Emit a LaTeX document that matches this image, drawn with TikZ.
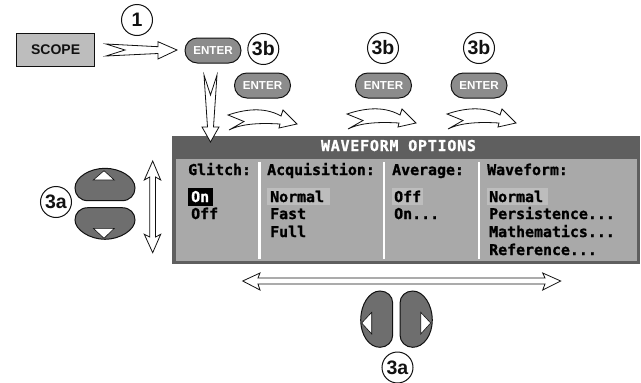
\documentclass[tikz,border=0pt]{standalone}
\usepackage{fontspec}
\setmainfont{Liberation Sans}
\newfontfamily\screenfont[BoldFeatures={FakeBold=1.2}]{DejaVu Sans Mono}
\definecolor{btn}{HTML}{8C8C8C}
\definecolor{rock}{HTML}{6E6E6E}
\definecolor{titlebar}{HTML}{5F5F5F}
\definecolor{panelbg}{HTML}{A9A9A9}
\definecolor{hilite}{HTML}{BDBDBD}
\definecolor{ink}{HTML}{111111}
\tikzset{
  x=1pt,y=-1pt,
  enterbtn/.style={draw=ink,line width=1pt,fill=btn,rounded corners=12.4pt,minimum width=56pt,minimum height=25pt,inner sep=0pt,text=white,font=\fontsize{11.6}{12}\selectfont\bfseries},
  scopebtn/.style={draw=ink,line width=1pt,fill=hilite,minimum width=78pt,minimum height=33pt,inner sep=0pt,text=ink,font=\fontsize{14}{15}\selectfont\bfseries},
  tag/.style={draw=ink,line width=1pt,fill=white,circle,minimum size=31pt,inner sep=0pt,text=ink,font=\fontsize{19.5}{20}\selectfont\bfseries},
  blockarrow/.style={draw=ink,line width=0.8pt,fill=white,line join=miter},
  rocker/.style={draw=ink,line width=1pt,fill=rock},
  rocktri/.style={draw=ink,line width=0.6pt,fill=white},
  scr/.style={anchor=base west,inner sep=0pt,text=black,font=\screenfont\bfseries\fontsize{14.9}{15}\selectfont},
  curvedarrow/.pic={
    \path[blockarrow] (0,0) -- (16,6.5) -- (1,15)
      .. controls (15,8) and (35,8) .. (52,9)
      -- (51,13) -- (69,9) -- (55,-5) -- (53,1)
      .. controls (35,-9) and (15,-5) .. cycle;
  }
}
\begin{document}
\begin{tikzpicture}
\useasboundingbox (0,0) rectangle (641,383);
% screen panel
\fill[titlebar] (172,136) rectangle (640,264);
\fill[panelbg] (176,159) rectangle (637,261);
\fill[white] (258,162) rectangle (260.5,259);
\fill[white] (382.5,162) rectangle (385,259);
\fill[white] (477.5,162) rectangle (480,259);
\fill[hilite] (267,188) rectangle (330,205);
\fill[hilite] (392,188) rectangle (423,205);
\fill[hilite] (487,188) rectangle (548,205);
\fill[black] (188,188) rectangle (213,206);
\node[scr,anchor=base,text=white,font=\screenfont\bfseries\fontsize{15}{15}\addfontfeature{LetterSpace=5}\selectfont] (title) at (398.5,151) {WAVEFORM OPTIONS};
\node[scr] (h1) at (188,175) {Glitch:};
\node[scr] (h2) at (267,175) {Acquisition:};
\node[scr] (h3) at (392,175) {Average:};
\node[scr] (h4) at (487,175) {Waveform:};
\node[scr,text=white] (g1) at (191,202) {On};
\node[scr] (g2) at (191,219) {Off};
\node[scr] (a1) at (270,202) {Normal};
\node[scr] (a2) at (270,219) {Fast};
\node[scr] (a3) at (270,237) {Full};
\node[scr] (v1) at (394,202) {Off};
\node[scr] (v2) at (394,219) {On...};
\node[scr] (w1) at (489,202) {Normal};
\node[scr] (w2) at (489,219) {Persistence...};
\node[scr] (w3) at (489,237) {Mathematics...};
\node[scr] (w4) at (489,255) {Reference...};
% buttons
\node[scopebtn] (scope) at (55.6,49.5) {SCOPE};
\node[enterbtn] (e1) at (213,50.5) {ENTER};
\node[enterbtn] (e2) at (262.5,85.5) {ENTER};
\node[enterbtn] (e3) at (383.5,85.5) {ENTER};
\node[enterbtn] (e4) at (479,85.5) {ENTER};
% tags
\node[tag] (t1) at (137,20) {1};
\node[tag] (t2) at (263.3,49) {3b};
\node[tag] (t3) at (383,48) {3b};
\node[tag] (t4) at (479,48) {3b};
\node[tag] (t5) at (56,202) {3a};
\node[tag] (t6) at (397.5,367.5) {3a};
% block arrows
\path[blockarrow] (106,44) -- (125,50) -- (106,56) -- (158,53.5) -- (158,59) -- (177,50) -- (158,41.7) -- (158,46.7) -- cycle;
\path[blockarrow] (204,75) -- (210.5,95) -- (217,75) -- (213.5,127) -- (219,127) -- (210.5,142) -- (202,127) -- (207.5,127) -- cycle;
\pic at (228,115) {curvedarrow};
\pic at (347,114) {curvedarrow};
\pic at (447,114) {curvedarrow};
\path[blockarrow] (152.7,161) -- (160.7,180) -- (155.5,177) -- (155.5,237) -- (160.7,234.3) -- (152.7,252.7) -- (144.3,234.3) -- (149.7,237) -- (149.7,177) -- (144.3,180) -- cycle;
\path[blockarrow] (242.7,281) -- (260,273) -- (258,278) -- (545,278) -- (542.7,273) -- (560.7,281) -- (542.7,290) -- (545,284) -- (258,284) -- (260,290) -- cycle;
% rockers
\path[rocker] (88,200.7) -- (122,200.7) .. controls (130,200.7) and (135,195) .. (135,188) .. controls (135,177) and (120,168.3) .. (105,168.3) .. controls (90,168.3) and (75,177) .. (75,188) .. controls (75,195) and (80,200.7) .. (88,200.7) -- cycle;
\path[rocker] (88,207.7) -- (122,207.7) .. controls (130,207.7) and (135,213) .. (135,220) .. controls (135,230) and (120,239.3) .. (105,239.3) .. controls (90,239.3) and (75,230) .. (75,220) .. controls (75,213) and (80,207.7) .. (88,207.7) -- cycle;
\path[rocktri] (104,170.7) -- (114.3,180) -- (93.3,180) -- cycle;
\path[rocktri] (104,238.3) -- (114.3,228.3) -- (93.3,228.3) -- cycle;
\path[rocker] (392.7,303) -- (392.7,335) .. controls (392.7,342) and (387,347.3) .. (380,347.3) .. controls (369,347.3) and (360.7,335) .. (360.7,320) .. controls (360.7,305) and (369,291) .. (380,291) .. controls (387,291) and (392.7,296) .. (392.7,303) -- cycle;
\path[rocker] (400,303) -- (400,335) .. controls (400,342) and (405.7,347.3) .. (412.7,347.3) .. controls (423.7,347.3) and (432.3,335) .. (432.3,320) .. controls (432.3,305) and (423.7,291) .. (412.7,291) .. controls (405.7,291) and (400,296) .. (400,303) -- cycle;
\path[rocktri] (361.7,323) -- (371.7,312.3) -- (371.7,334) -- cycle;
\path[rocktri] (430.7,323) -- (420.7,312.3) -- (420.7,334) -- cycle;
\end{tikzpicture}
\end{document}
